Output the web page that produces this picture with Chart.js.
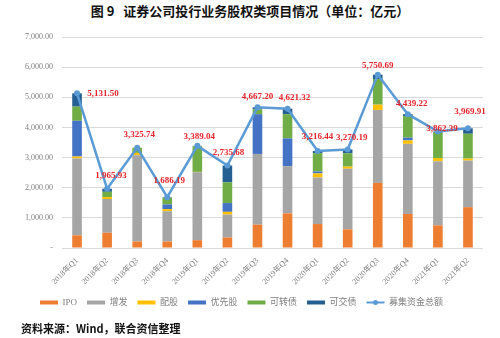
<!DOCTYPE html>
<html>
<head>
<meta charset="utf-8">
<script src="https://cdn.jsdelivr.net/npm/chart.js@4"></script>
<style>
  body { margin: 0; background: #fff; }
  #wrap { position: relative; width: 500px; height: 338px; }
  #title {
    position: absolute; top: 1px; left: 0; width: 500px; text-align: center;
    font: bold 13px "Noto Sans CJK SC", sans-serif; color: #111;
  }
  #source {
    position: absolute; top: 320px; left: 21px;
    font: bold 11px "Noto Sans CJK SC", "Liberation Serif", serif; color: #111;
  }
  canvas { position: absolute; top: 0; left: 0; }
</style>
</head>
<body>
<div id="wrap">
  <div id="title">图 9&nbsp;&nbsp;&nbsp;证券公司投行业务股权类项目情况（单位：亿元）</div>
  <canvas id="chart" width="500" height="338"></canvas>
  <div id="source">资料来源：Wind，联合资信整理</div>
</div>
<script>
// quarters on the x axis
const quarters = ["2018年Q1", "2018年Q2", "2018年Q3", "2018年Q4", "2019年Q1", "2019年Q2", "2019年Q3",
  "2019年Q4", "2020年Q1", "2020年Q2", "2020年Q3", "2020年Q4", "2021年Q1", "2021年Q2"];

// stacked components (亿元)
const ipo = [420, 505, 215, 215, 260, 350, 775, 1150, 795, 620, 2160, 1130, 750, 1355];
const zengfa = [2550, 1120, 2860, 1005, 2255, 760, 2345, 1565, 1545, 2010, 2420, 2325, 2125, 1545];
const peigu = [65, 65, 80, 70, 10, 90, 0, 0, 135, 70, 175, 115, 110, 65];
const youxiangu = [1185, 0, 0, 155, 0, 290, 1320, 920, 65, 0, 0, 90, 0, 0];
const kezhuanzhai = [470, 175, 170.74, 225, 850, 690, 160, 805, 605, 440, 850, 715, 840, 825];
const kejiaozhai = [441.5, 100.93, 0, 16.19, 14.04, 555.68, 67.2, 181.32, 71.44, 130.19, 145.69, 64.22, 37.39, 179.91];

// total raised (line)
const totals = [5131.50, 1965.93, 3325.74, 1686.19, 3389.04, 2735.68, 4667.20, 4621.32, 3216.44, 3270.19,
  5750.69, 4439.22, 3862.39, 3969.91];

// y axis ticks
const yMax = 7000;
const yStep = 1000;

// where each total label sits relative to its point
const labelOffsets = [[26, 0], [4, -13], [2, -13], [2, -17], [2, -9], [1, -13], [0, -11], [7, -11],
  [0, -14], [4, -12], [0, -9], [4, -11], [4, -3], [2, -17]];

const fmt = (v) => v.toLocaleString("en-US", { minimumFractionDigits: 2, maximumFractionDigits: 2 });

const totalLabels = {
  id: "totalLabels",
  afterDatasetsDraw(chart) {
    const ctx = chart.ctx;
    const meta = chart.getDatasetMeta(6);
    ctx.save();
    ctx.font = "bold 9px 'Liberation Serif', serif";
    ctx.fillStyle = "#E3262C";
    ctx.textAlign = "center";
    ctx.textBaseline = "middle";
    meta.data.forEach((pt, i) => {
      const off = labelOffsets[i];
      ctx.fillText(fmt(totals[i]), pt.x + off[0], pt.y + off[1]);
    });
    ctx.restore();
  },
  afterDraw(chart) {
    // thin line + marker for the line series legend swatch
    const boxes = chart.legend.legendHitBoxes;
    const items = chart.legend.legendItems;
    const idx = items.findIndex((it) => it.datasetIndex === 6);
    if (idx < 0) return;
    const b = boxes[idx];
    const ctx = chart.ctx;
    const cy = b.top + b.height / 2;
    ctx.save();
    ctx.fillStyle = "#fff";
    ctx.fillRect(b.left - 2, cy - 5, 22, 10);
    ctx.strokeStyle = "#5B9BD5";
    ctx.lineWidth = 2;
    ctx.beginPath();
    ctx.moveTo(b.left, cy);
    ctx.lineTo(b.left + 18, cy);
    ctx.stroke();
    ctx.fillStyle = "#5B9BD5";
    ctx.beginPath();
    ctx.arc(b.left + 9, cy, 2.5, 0, Math.PI * 2);
    ctx.fill();
    ctx.restore();
  }
};

const barStyle = (label, data, color) => ({
  type: "bar",
  label: label,
  data: data,
  backgroundColor: color,
  borderWidth: 0,
  barPercentage: 0.32,
  categoryPercentage: 1,
  order: 1
});

new Chart(document.getElementById("chart"), {
  data: {
    labels: quarters,
    datasets: [
      barStyle("IPO", ipo, "#ED7D31"),
      barStyle("增发", zengfa, "#A5A5A5"),
      barStyle("配股", peigu, "#FFC000"),
      barStyle("优先股", youxiangu, "#4472C4"),
      barStyle("可转债", kezhuanzhai, "#70AD47"),
      barStyle("可交债", kejiaozhai, "#255E91"),
      {
        type: "line",
        label: "募集资金总额",
        data: totals,
        borderColor: "#5B9BD5",
        backgroundColor: "#5B9BD5",
        borderWidth: 2.5,
        pointRadius: 3,
        pointBorderWidth: 0,
        tension: 0,
        order: 0
      }
    ]
  },
  plugins: [totalLabels],
  options: {
    responsive: false,
    animation: false,
    layout: { padding: { top: 37, right: 17, bottom: 21, left: 0 } },
    plugins: {
      tooltip: { enabled: false },
      legend: {
        position: "bottom",
        labels: {
          sort: (a, b) => a.datasetIndex - b.datasetIndex,
          boxWidth: 18,
          boxHeight: 4,
          padding: 10,
          color: "#7F7F7F",
          font: { size: 9, family: "'Liberation Serif', 'Noto Sans CJK SC', serif" }
        }
      }
    },
    scales: {
      x: {
        stacked: true,
        grid: { display: false },
        border: { display: false },
        ticks: {
          minRotation: 45,
          maxRotation: 45,
          padding: 0,
          color: "#7F7F7F",
          font: { size: 8, family: "'Liberation Serif', 'Noto Sans CJK SC', serif" }
        },
        afterFit: (scale) => { scale.height = 40; }
      },
      y: {
        stacked: true,
        min: 0,
        max: yMax,
        grid: { color: "#D9D9D9", drawTicks: false },
        border: { display: false },
        ticks: {
          stepSize: yStep,
          padding: 9,
          color: "#7F7F7F",
          font: { size: 8, family: "'Liberation Serif', serif" },
          callback: (v) => (v === 0 ? "-" : fmt(v))
        },
        afterFit: (scale) => { scale.width = 62; }
      }
    }
  }
});
</script>
</body>
</html>
